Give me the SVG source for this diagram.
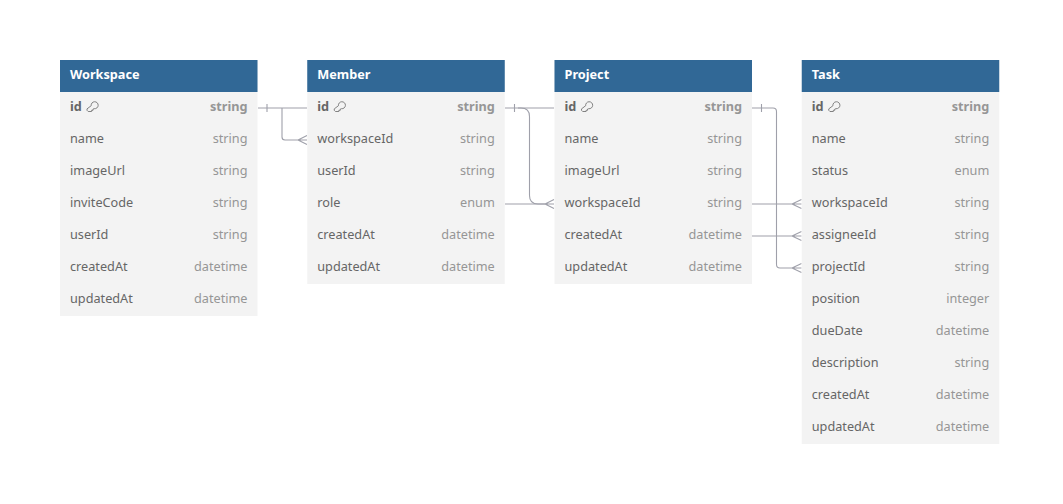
<svg xmlns="http://www.w3.org/2000/svg" width="1063" height="504" viewBox="0 0 1063 504">
<defs>
<style>
text{font-family:"Noto Sans","Open Sans","Liberation Sans",sans-serif;font-size:12.700px}
.body{fill:#f3f3f3}
.head{fill:#316896}
.title{fill:#fff;font-weight:700}
.n{fill:#666}
.t{fill:#969696;text-anchor:end}
.k{font-weight:700}
.c{fill:none;stroke:#9fa0aa;stroke-width:1.100}
.key{fill:none;stroke:#757575;stroke-width:.9}
</style>
<g id="keyicon"><path class="key" d="M-0.800 -0.800A3.500 3.500 0 1 1 2.200 2.200L1 2.600V3.800H-0.400V5H-3.800L-5 3.800V2.400z"/></g>
</defs>
<rect width="1063" height="504" fill="#fff"/>
<g id="connectors">
<path class="c" d="M258 108H307M267 104V112M282 108V137Q282 140 285 140H307M298 140L307 135.500M298 140L307 144.500"/>
<path class="c" d="M505 108H554M514.500 104V112M505 204H554M545 204L554 199.500M545 204L554 208.500"/>
<path class="c" d="M518 108H521Q529.500 108 529.500 116.500V195.500Q529.500 204 538 204H545"/>
<path class="c" d="M752 108H773Q776.500 108 776.500 111.500V264.500Q776.500 268 780 268H801.500M761.500 104V112M792 268L801.500 263.500M792 268L801.500 272.500"/>
<path class="c" d="M752 204H801.500M792 204L801.500 199.500M792 204L801.500 208.500M752 236H801.500M792 236L801.500 231.500M792 236L801.500 240.500"/>
</g>
<g id="workspace">
<rect class="body" x="60" y="60" width="197.500" height="256"/><rect class="head" x="60" y="60" width="197.500" height="32"/>
<text class="title" x="70" y="79">Workspace</text>
<text class="n k" x="70" y="111">id</text><use href="#keyicon" x="92" y="106.500"/><text class="t k" x="247.500" y="111">string</text>
<text class="n" x="70" y="143">name</text><text class="t" x="247.500" y="143">string</text>
<text class="n" x="70" y="175">imageUrl</text><text class="t" x="247.500" y="175">string</text>
<text class="n" x="70" y="207">inviteCode</text><text class="t" x="247.500" y="207">string</text>
<text class="n" x="70" y="239">userId</text><text class="t" x="247.500" y="239">string</text>
<text class="n" x="70" y="271">createdAt</text><text class="t" x="247.500" y="271">datetime</text>
<text class="n" x="70" y="303">updatedAt</text><text class="t" x="247.500" y="303">datetime</text>
</g>
<g id="member">
<rect class="body" x="307.250" y="60" width="197.500" height="224"/><rect class="head" x="307.250" y="60" width="197.500" height="32"/>
<text class="title" x="317.250" y="79">Member</text>
<text class="n k" x="317.250" y="111">id</text><use href="#keyicon" x="339.250" y="106.500"/><text class="t k" x="494.750" y="111">string</text>
<text class="n" x="317.250" y="143">workspaceId</text><text class="t" x="494.750" y="143">string</text>
<text class="n" x="317.250" y="175">userId</text><text class="t" x="494.750" y="175">string</text>
<text class="n" x="317.250" y="207">role</text><text class="t" x="494.750" y="207">enum</text>
<text class="n" x="317.250" y="239">createdAt</text><text class="t" x="494.750" y="239">datetime</text>
<text class="n" x="317.250" y="271">updatedAt</text><text class="t" x="494.750" y="271">datetime</text>
</g>
<g id="project">
<rect class="body" x="554.500" y="60" width="197.500" height="224"/><rect class="head" x="554.500" y="60" width="197.500" height="32"/>
<text class="title" x="564.500" y="79">Project</text>
<text class="n k" x="564.500" y="111">id</text><use href="#keyicon" x="586.500" y="106.500"/><text class="t k" x="742" y="111">string</text>
<text class="n" x="564.500" y="143">name</text><text class="t" x="742" y="143">string</text>
<text class="n" x="564.500" y="175">imageUrl</text><text class="t" x="742" y="175">string</text>
<text class="n" x="564.500" y="207">workspaceId</text><text class="t" x="742" y="207">string</text>
<text class="n" x="564.500" y="239">createdAt</text><text class="t" x="742" y="239">datetime</text>
<text class="n" x="564.500" y="271">updatedAt</text><text class="t" x="742" y="271">datetime</text>
</g>
<g id="task">
<rect class="body" x="801.750" y="60" width="197.500" height="384"/><rect class="head" x="801.750" y="60" width="197.500" height="32"/>
<text class="title" x="811.750" y="79">Task</text>
<text class="n k" x="811.750" y="111">id</text><use href="#keyicon" x="833.750" y="106.500"/><text class="t k" x="989.250" y="111">string</text>
<text class="n" x="811.750" y="143">name</text><text class="t" x="989.250" y="143">string</text>
<text class="n" x="811.750" y="175">status</text><text class="t" x="989.250" y="175">enum</text>
<text class="n" x="811.750" y="207">workspaceId</text><text class="t" x="989.250" y="207">string</text>
<text class="n" x="811.750" y="239">assigneeId</text><text class="t" x="989.250" y="239">string</text>
<text class="n" x="811.750" y="271">projectId</text><text class="t" x="989.250" y="271">string</text>
<text class="n" x="811.750" y="303">position</text><text class="t" x="989.250" y="303">integer</text>
<text class="n" x="811.750" y="335">dueDate</text><text class="t" x="989.250" y="335">datetime</text>
<text class="n" x="811.750" y="367">description</text><text class="t" x="989.250" y="367">string</text>
<text class="n" x="811.750" y="399">createdAt</text><text class="t" x="989.250" y="399">datetime</text>
<text class="n" x="811.750" y="431">updatedAt</text><text class="t" x="989.250" y="431">datetime</text>
</g>
</svg>
